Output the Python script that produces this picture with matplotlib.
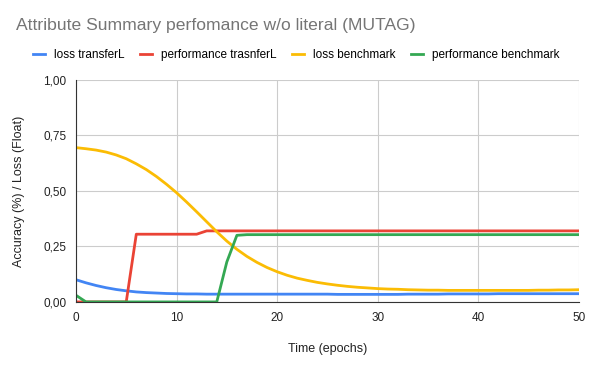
import matplotlib.pyplot as plt
from matplotlib.ticker import FuncFormatter

plt.rcParams['font.family'] = ['Liberation Sans', 'DejaVu Sans']

epochs = list(range(51))

loss_transfer = [0.100, 0.086, 0.074, 0.064, 0.056, 0.050, 0.045, 0.042, 0.040, 0.038,
                 0.037, 0.036, 0.036, 0.035, 0.035, 0.035, 0.035, 0.035, 0.035, 0.035,
                 0.035, 0.035, 0.035, 0.035, 0.035, 0.035, 0.034, 0.034, 0.034, 0.034,
                 0.034, 0.034, 0.034, 0.035, 0.035, 0.035, 0.035, 0.036, 0.036, 0.036,
                 0.036, 0.036, 0.037, 0.037, 0.037, 0.037, 0.037, 0.037, 0.037, 0.037,
                 0.037]

perf_transfer = [0.0, 0.0, 0.0, 0.0, 0.0, 0.0, 0.305, 0.305, 0.305, 0.305,
                 0.305, 0.305, 0.305, 0.32] + [0.32] * 37

loss_bench = [0.695, 0.690, 0.684, 0.675, 0.662, 0.645, 0.622, 0.596, 0.565, 0.530,
              0.492, 0.450, 0.406, 0.361, 0.316, 0.274, 0.237, 0.205, 0.178, 0.155,
              0.136, 0.120, 0.107, 0.097, 0.088, 0.081, 0.075, 0.070, 0.066, 0.063,
              0.060, 0.058, 0.057, 0.055, 0.054, 0.053, 0.053, 0.052, 0.052, 0.052,
              0.052, 0.052, 0.052, 0.052, 0.052, 0.052, 0.053, 0.053, 0.054, 0.054,
              0.055]

perf_bench = [0.03, 0.0, 0.0, 0.0, 0.0, 0.0, 0.0, 0.0, 0.0, 0.0,
              0.0, 0.0, 0.0, 0.0, 0.0, 0.18, 0.30] + [0.303] * 34

fig = plt.figure(figsize=(5.98, 3.70), dpi=100)
ax = fig.add_axes([0.127, 0.184, 0.841, 0.600])

ax.plot(epochs, loss_transfer, color="#4285F4", lw=2, label="loss transferL")
ax.plot(epochs, perf_transfer, color="#EA4335", lw=2, label="performance trasnferL")
ax.plot(epochs, loss_bench, color="#FBBC04", lw=2, label="loss benchmark")
ax.plot(epochs, perf_bench, color="#34A853", lw=2, label="performance benchmark")

ax.set_xlim(0, 50)
ax.set_ylim(0, 1)
ax.set_xticks([0, 10, 20, 30, 40, 50])
ax.set_yticks([0, 0.25, 0.5, 0.75, 1.0])
ax.yaxis.set_major_formatter(FuncFormatter(lambda v, p: f"{v:.2f}".replace(".", ",")))
ax.grid(color="#cccccc", lw=0.8)
ax.set_axisbelow(True)
ax.tick_params(length=0, labelsize=8.5, colors="#222222", pad=7)
for s in ["top", "right"]:
    ax.spines[s].set_visible(False)
ax.spines["left"].set_color("#333333")
ax.spines["bottom"].set_color("#333333")

ax.set_xlabel("Time (epochs)", fontsize=9, color="#222222", labelpad=14)
ax.set_ylabel("Accuracy (%) / Loss (Float)", fontsize=9, color="#222222", labelpad=13)

fig.text(0.027, 0.932, "Attribute Summary perfomance w/o literal (MUTAG)",
         fontsize=12.6, color="#757575", va="center")

fig.legend(loc="center left", bbox_to_anchor=(0.055, 0.851), ncol=4, frameon=False,
           fontsize=8.5, handlelength=1.0, handletextpad=0.75, columnspacing=1.35,
           borderaxespad=0, borderpad=0)

fig.savefig("out.png", dpi=100)
